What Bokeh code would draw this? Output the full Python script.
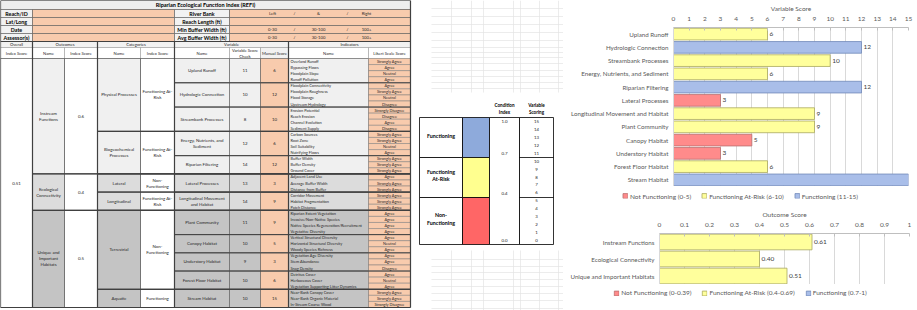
from bokeh.plotting import figure
from bokeh.models import (Range1d, ColumnDataSource, LabelSet, Legend,
                          LegendItem, FixedTicker, NumeralTickFormatter)
from bokeh.layouts import row, column
from bokeh.core.properties import value
from bokeh.embed import file_html
from bokeh.resources import INLINE

FONT = "Lato"

# ---------------- data ----------------
title = "Riparian Ecological Function Index (REFI)"
info_left = ["Reach/ID", "Lat/Long", "Date", "Assessor(s)"]
info_right = ["River Bank", "Reach Length (ft)", "Min Buffer Width (ft)", "Avg Buffer Width (ft)"]
info_choices = [["Left", "/", "&", "/", "Right"], [], ["0-30", "/", "30-100", "/", "100+"],
                ["0-30", "/", "30-100", "/", "100+"]]

overall_index = "0.51"
outcomes = ["Instream Functions", "Ecological Connectivity", "Unique and Important Habitats"]
outcome_index = ["0.6", "0.4", "0.5"]
outcome_scores = [0.61, 0.40, 0.51]
categories = ["Physical Processes", "Biogeochemical Processes", "Lateral", "Longitudinal",
              "Terrestrial", "Aquatic"]
category_outcome = [0, 0, 1, 1, 2, 2]
category_status = ["Functioning At-Risk", "Functioning At-Risk", "Non-Functioning",
                   "Functioning At-Risk", "Non-Functioning", "Functioning"]
variables = ["Upland Runoff", "Hydrologic Connection", "Streambank Processes",
             "Energy, Nutrients, and Sediment", "Riparian Filtering", "Lateral Processes",
             "Longitudinal Movement and Habitat", "Plant Community", "Canopy Habitat",
             "Understory Habitat", "Forest Floor Habitat", "Stream Habitat"]
variable_category = [0, 0, 0, 1, 1, 2, 3, 4, 4, 4, 4, 5]
variable_check = [11, 10, 8, 12, 14, 13, 14, 11, 10, 9, 10, 10]
variable_scores = [6, 12, 10, 6, 12, 3, 9, 9, 5, 3, 6, 15]
indicator_counts = [4, 4, 4, 4, 3, 3, 3, 4, 3, 3, 3, 3]
indicators = [
    "Overland Runoff", "Bypassing Flows", "Floodplain Slope", "Runoff Pollution",
    "Floodplain Connectivity", "Floodplain Roughness", "Flood Storage", "Upstream Hydrology",
    "Erosion Potential", "Reach Erosion", "Channel Evolution", "Sediment Supply",
    "Carbon Sources", "Root Zone", "Soil Suitability", "Nutrifying Flows",
    "Buffer Width", "Buffer Density", "Ground Cover",
    "Adjacent Land Use", "Average Buffer Width", "Distance from Buffer",
    "Corridor Movement", "Habitat Fragmentation", "Patch Distance",
    "Riparian Extent Vegetation", "Invasive/Non-Native Species",
    "Native Species Regeneration/Recruitment", "Vegetative Diversity",
    "Vertical Structural Diversity", "Horizontal Structural Diversity", "Woody Species Richness",
    "Vegetation Age Diversity", "Stem Abundance", "Snag Density",
    "Detritus Cover", "Herbaceous Cover", "Vegetation Supporting Litter Dynamics",
    "Near-Bank Canopy Cover", "Near-Bank Organic Material", "In-Stream Coarse Wood"]
likert = [
    "Strongly Agree", "Agree", "Neutral", "Agree",
    "Agree", "Strongly Agree", "Neutral", "Disagree",
    "Strongly Disagree", "Disagree", "Agree", "Disagree",
    "Strongly Agree", "Strongly Agree", "Neutral", "Agree",
    "Strongly Agree", "Strongly Agree", "Strongly Agree",
    "Agree", "Strongly Agree", "Strongly Agree",
    "Strongly Agree", "Strongly Agree", "Strongly Agree",
    "Agree", "Agree", "Agree", "Agree",
    "Agree", "Neutral", "Agree",
    "Agree", "Agree", "Disagree",
    "Agree", "Neutral", "Agree",
    "Strongly Agree", "Strongly Agree", "Strongly Disagree"]

condition_labels = ["Functioning", "Functioning\nAt-Risk", "Non-\nFunctioning"]
condition_breaks = ["1.0", "0.7", "0.4", "0.0"]
variable_scoring = [15, 14, 13, 12, 11, 10, 9, 8, 7, 6, 5, 4, 3, 2, 1, 0]

var_ticks = [0, 1, 2, 3, 4, 5, 6, 7, 8, 9, 10, 11, 12, 13, 14, 15]
out_ticks = [0, 0.1, 0.2, 0.3, 0.4, 0.5, 0.6, 0.7, 0.8, 0.9, 1]
var_legend = ["Not Functioning (0-5)", "Functioning At-Risk (6-10)", "Functioning (11-15)"]
out_legend = ["Not Functioning (0-0.39)", "Functioning At-Risk (0.4-0.69)", "Functioning (0.7-1)"]

# ---------------- styles ----------------
ORANGE = "#f8cbad"
SHADE = ["#f0f0f0", "#dcdcdc", "#c4c4c4"]
BAND = ["#8eaadb", "#ffff8f", "#ff6666"]
BAR_FILL = ["#ff8b8b", "#ffff9c", "#a9bee9"]
BAR_LINE = ["#b97070", "#a9a860", "#7189b9"]
TXT = "#262626"
CH = "#595959"

WRAP = {"Instream Functions": "Instream\nFunctions",
        "Ecological Connectivity": "Ecological\nConnectivity",
        "Unique and Important Habitats": "Unique and\nImportant\nHabitats",
        "Biogeochemical Processes": "Biogeochemical\nProcesses",
        "Functioning At-Risk": "Functioning At-\nRisk",
        "Non-Functioning": "Non-\nFunctioning",
        "Energy, Nutrients, and Sediment": "Energy, Nutrients, and\nSediment",
        "Longitudinal Movement and Habitat": "Longitudinal Movement\nand Habitat"}

def w(s):
    return WRAP.get(s, s)

# ---------------- left: table + condition legend ----------------
L = figure(width=563, height=310, x_range=Range1d(0, 563), y_range=Range1d(310, 0),
           output_backend="svg", toolbar_location=None, min_border=0, frame_align=False,
           x_axis_type=None, y_axis_type=None, outline_line_color=None)

Q = dict(l=[], r=[], t=[], b=[], f=[], lc=[], lw=[])
T = dict(x=[], y=[], s=[], size=[], style=[], align=[], color=[])
S = dict(x0=[], y0=[], x1=[], y1=[], c=[], w=[])

def cell(x0, x1, y0, y1, fill, line="#8c8c8c", lw=0.5):
    Q["l"].append(x0); Q["r"].append(x1); Q["t"].append(y0); Q["b"].append(y1)
    Q["f"].append(fill); Q["lc"].append(line); Q["lw"].append(lw)

def txt(x, y, s, size="4px", style="normal", align="center", color=TXT):
    T["x"].append(x); T["y"].append(y); T["s"].append(s); T["size"].append(size)
    T["style"].append(style); T["align"].append(align); T["color"].append(color)

def seg(x0, y0, x1, y1, c="#404040", wd=1.2):
    S["x0"].append(x0); S["y0"].append(y0); S["x1"].append(x1); S["y1"].append(y1)
    S["c"].append(c); S["w"].append(wd)

# spreadsheet gridlines (background)
for gy in [8, 16, 24, 32, 40, 47, 52, 57, 63, 70, 76, 82, 88, 259, 266, 272, 279, 286, 293, 300, 308]:
    seg(431, gy, 563, gy, "#e4e4e4", 0.7)
for gx in [451, 471, 483, 513, 520, 539, 558]:
    seg(gx, 0, gx, 92, "#e4e4e4", 0.7)
    seg(gx, 250, gx, 310, "#e4e4e4", 0.7)

COL = [0, 32, 64, 97, 140, 174, 229, 260, 288, 368, 410]

cell(0, 410, 0, 9, "#eeeeee", "#595959", 0.6)
txt(205, 4.6, title, "5.5px", "bold", color="#000000")
for i in range(4):
    y0, y1 = 9 + 8 * i, 17 + 8 * i
    ym = (y0 + y1) / 2
    cell(0, 32, y0, y1, "#f2f2f2", "#595959", 0.6)
    cell(32, 174, y0, y1, ORANGE, "#595959", 0.6)
    cell(174, 229, y0, y1, "#f2f2f2", "#595959", 0.6)
    cell(229, 410, y0, y1, ORANGE, "#595959", 0.6)
    txt(16, ym, info_left[i], "5.3px", "bold", color="#000000")
    txt(201.5, ym, info_right[i], "5.3px", "bold", color="#000000")
    for xx, s in zip([272, 294, 318, 347, 366], info_choices[i]):
        txt(xx, ym, s, "4.2px")

for (x0, x1, s) in [(0, 32, "Overall"), (32, 97, "Outcomes"), (97, 174, "Categories"),
                    (174, 288, "Variable"), (288, 410, "Indicators")]:
    cell(x0, x1, 41, 47, "#f2f2f2", "#8c8c8c", 0.5)
    txt((x0 + x1) / 2, 44, s, "4.2px")
hdr2 = ["Index Score", "Name", "Index Score", "Name", "Index Score", "Name",
        "Variable Score\nCheck", "Manual Score", "Name", "Likert Scale Score"]
for k, s in enumerate(hdr2):
    fill = "#f2f2f2" if k == 7 else "#ffffff"
    cell(COL[k], COL[k + 1], 47, 58, fill, "#8c8c8c", 0.5)
    txt((COL[k] + COL[k + 1]) / 2, 52.5, s, "4.2px")

TOP, BOT = 58, 307
rh = (BOT - TOP) / sum(indicator_counts)
starts = []
acc = 0
for n in indicator_counts:
    starts.append(acc)
    acc += n

def yr(r):
    return TOP + r * rh

def var_rows(vi):
    return starts[vi], starts[vi] + indicator_counts[vi]

cell(0, 32, TOP, BOT, "#ffffff", "#404040", 0.6)
txt(16, (TOP + BOT) / 2, overall_index, "4.4px")

cat_rng = []
for c in range(len(categories)):
    vs = [vi for vi, cc in enumerate(variable_category) if cc == c]
    cat_rng.append((var_rows(vs[0])[0], var_rows(vs[-1])[1]))
out_rng = []
for o in range(len(outcomes)):
    cs = [c for c, oo in enumerate(category_outcome) if oo == o]
    out_rng.append((cat_rng[cs[0]][0], cat_rng[cs[-1]][1]))

for o, (r0, r1) in enumerate(out_rng):
    y0, y1 = yr(r0), yr(r1)
    cell(32, 64, y0, y1, SHADE[o], "#404040", 0.6)
    cell(64, 97, y0, y1, "#ffffff", "#404040", 0.6)
    txt(48, (y0 + y1) / 2, w(outcomes[o]), "4.4px")
    txt(80.5, (y0 + y1) / 2, outcome_index[o], "4.4px")

for c, (r0, r1) in enumerate(cat_rng):
    y0, y1 = yr(r0), yr(r1)
    o = category_outcome[c]
    cell(97, 140, y0, y1, SHADE[o], "#404040", 0.6)
    cell(140, 174, y0, y1, "#ffffff", "#404040", 0.6)
    txt(118.5, (y0 + y1) / 2, w(categories[c]), "4.4px")
    txt(157, (y0 + y1) / 2, w(category_status[c]), "4.4px")

for vi, name in enumerate(variables):
    r0, r1 = var_rows(vi)
    y0, y1 = yr(r0), yr(r1)
    ym = (y0 + y1) / 2
    o = category_outcome[variable_category[vi]]
    cell(174, 229, y0, y1, SHADE[o], "#595959", 0.6)
    cell(229, 260, y0, y1, SHADE[o], "#595959", 0.6)
    cell(260, 288, y0, y1, ORANGE, "#595959", 0.6)
    cell(288, 368, y0, y1, SHADE[o], "#595959", 0.6)
    txt(201.5, ym, w(name), "4.4px")
    txt(244.5, ym, str(variable_check[vi]), "4.4px")
    txt(274, ym, str(variable_scores[vi]), "4.4px")
    for r in range(r0, r1):
        cell(368, 410, yr(r), yr(r + 1), ORANGE, "#7a7a7a", 0.5)
        txt(290, yr(r) + rh / 2, indicators[r], "3.9px", align="left")
        txt(389, yr(r) + rh / 2, likert[r], "3.9px")

for xx in [32, 97, 174, 288]:
    seg(xx, 41, xx, BOT)
seg(0, 0, 0, BOT); seg(410, 0, 410, BOT)
seg(0, 0, 410, 0); seg(0, 41, 410, 41); seg(0, BOT, 410, BOT)
for (r0, r1) in out_rng[1:]:
    seg(32, yr(r0), 410, yr(r0))
for (r0, r1) in cat_rng[1:]:
    seg(97, yr(r0), 410, yr(r0))
for vi in range(1, len(variables)):
    seg(174, yr(starts[vi]), 410, yr(starts[vi]), "#404040", 1.0)

BX = [419, 462, 489, 519, 553]
BY = [117, 157, 197, 244]
for k in range(3):
    cell(BX[0], BX[1], BY[k], BY[k + 1], "#ffffff", "#000000", 0.8)
    cell(BX[1], BX[2], BY[k], BY[k + 1], BAND[k], "#000000", 0.8)
    txt((BX[0] + BX[1]) / 2, (BY[k] + BY[k + 1]) / 2 - 2, condition_labels[k], "5.3px", "bold",
        color="#000000")
cell(BX[2], BX[3], BY[0], BY[3], "#ffffff", "#000000", 0.8)
cell(BX[3], BX[4], BY[0], BY[3], "#ffffff", "#000000", 0.8)
seg(BX[3], BY[1], BX[4], BY[1], "#000000", 0.8)
seg(BX[3], BY[2], BX[4], BY[2], "#000000", 0.8)
txt((BX[2] + BX[3]) / 2, 108, "Condition\nIndex", "4.6px", "bold", color="#000000")
txt((BX[3] + BX[4]) / 2, 108, "Variable\nScoring", "4.6px", "bold", color="#000000")
cond_y = [BY[0] + 4, BY[1] - 4, BY[2] - 4, BY[3] - 4]
for s, yy in zip(condition_breaks, cond_y):
    txt((BX[2] + BX[3]) / 2, yy, s, "4.4px")
step = (BY[3] - 4 - (BY[0] + 4)) / 15
for v in variable_scoring:
    txt((BX[3] + BX[4]) / 2, BY[0] + 4 + (15 - v) * step, str(v), "4.4px")

L.quad(left="l", right="r", top="t", bottom="b", fill_color="f", line_color="lc",
       line_width="lw", source=ColumnDataSource(Q))
L.segment(x0="x0", y0="y0", x1="x1", y1="y1", line_color="c", line_width="w",
          source=ColumnDataSource(S))
L.text(x="x", y="y", text="s", text_font=value(FONT), text_font_size="size",
       text_font_style="style", text_align="align", text_baseline="middle",
       text_color="color", source=ColumnDataSource(T))


# ---------------- right: bar charts ----------------
def make_chart(names, scores, classes, ticks, label_text, axis_title, fw, fh, mb, bar_h):
    n = len(names)
    pos = list(range(n))
    p = figure(frame_width=fw, frame_height=fh, frame_align=False,
               x_range=Range1d(ticks[0], ticks[-1]), y_range=Range1d(n - 0.5, -0.5),
               x_axis_location="above", output_backend="svg", toolbar_location=None,
               outline_line_color=None, min_border_left=mb[0], min_border_right=mb[1],
               min_border_top=mb[2], min_border_bottom=0)
    for k in range(3):
        idx = [i for i, c in enumerate(classes) if c == k]
        src = ColumnDataSource(dict(y=[pos[i] for i in idx], right=[scores[i] for i in idx]))
        p.hbar(y="y", left=0, right="right", height=bar_h, source=src,
               fill_color=BAR_FILL[k], line_color=BAR_LINE[k], line_width=0.8)
    lab = ColumnDataSource(dict(x=scores, y=pos, t=label_text))
    p.add_layout(LabelSet(x="x", y="y", text="t", source=lab, x_offset=2,
                          text_baseline="middle", text_font=value(FONT),
                          text_font_size="6.5px", text_color="#404040"))
    ax = p.xaxis[0]
    ax.ticker = FixedTicker(ticks=ticks)
    ax.axis_label = axis_title
    ax.axis_label_text_font = FONT
    ax.axis_label_text_font_size = "6.5px"
    ax.axis_label_text_font_style = "normal"
    ax.axis_label_text_color = CH
    ax.axis_label_standoff = 2
    ax.major_label_text_font = FONT
    ax.major_label_text_font_size = "6.5px"
    ax.major_label_text_color = CH
    ax.major_label_standoff = 7
    ax.axis_line_color = "#bfbfbf"
    ax.major_tick_line_color = "#bfbfbf"
    ax.major_tick_in = 3
    ax.major_tick_out = 0
    ax.minor_tick_line_color = None
    ay = p.yaxis[0]
    ay.ticker = FixedTicker(ticks=pos)
    ay.major_label_overrides = {i: names[i] for i in pos}
    ay.major_label_text_font = FONT
    ay.major_label_text_font_size = "6.2px"
    ay.major_label_text_color = CH
    ay.major_label_standoff = 5
    ay.major_tick_line_color = None
    ay.major_tick_in = 0
    ay.major_tick_out = 0
    ay.minor_tick_line_color = None
    ay.axis_line_color = "#d9d9d9"
    p.xgrid.ticker = FixedTicker(ticks=ticks)
    p.xgrid.grid_line_color = "#d9d9d9"
    p.ygrid.grid_line_color = None
    return p


def make_legend_strip(labels, width, height, loc, margin):
    # legend-only strip: proxy bars sit outside the visible range, only their swatches show
    f = figure(width=width, height=height, x_range=Range1d(0, 1), y_range=Range1d(0, 1),
               output_backend="svg", toolbar_location=None, min_border=0, frame_align=False,
               x_axis_type=None, y_axis_type=None, outline_line_color=None)
    items = []
    for k in range(3):
        r = f.hbar(y="y", left="left", right="right", height=0.5,
                   source=ColumnDataSource(dict(y=[-9], left=[-9], right=[-8])),
                   fill_color=BAR_FILL[k], line_color=BAR_LINE[k], line_width=0.8)
        items.append(LegendItem(label=labels[k], renderers=[r]))
    leg = Legend(items=items, orientation="horizontal", location=loc,
                 label_text_font=FONT, label_text_font_size="6.5px",
                 label_text_color=CH, glyph_width=6, glyph_height=6,
                 label_standoff=2, spacing=10, padding=1, margin=margin,
                 border_line_color=None, background_fill_alpha=0)
    f.add_layout(leg)
    return f


var_cls = [0 if s <= 5 else (1 if s <= 10 else 2) for s in variable_scores]
out_cls = [0 if s < 0.4 else (1 if s < 0.7 else 2) for s in outcome_scores]

p1 = make_chart(variables, variable_scores, var_cls, var_ticks,
                [str(s) for s in variable_scores], "Variable Score",
                235, 159, (110, 9, 27), 0.88)
leg1 = make_legend_strip(var_legend, 354, 19, "center", 1)
p2 = make_chart(outcomes, outcome_scores, out_cls, out_ticks,
                ["%.2f" % s for s in outcome_scores], "Outcome Score",
                250, 51, (96, 8, 28), 0.92)
p2.xaxis[0].formatter = NumeralTickFormatter(format="0.[0]")
leg2 = make_legend_strip(out_legend, 354, 26, "top_center", 5)

page = row(L, column(p1, leg1, p2, leg2, spacing=0), spacing=0)
open("out.html", "w").write(file_html(page, INLINE))
